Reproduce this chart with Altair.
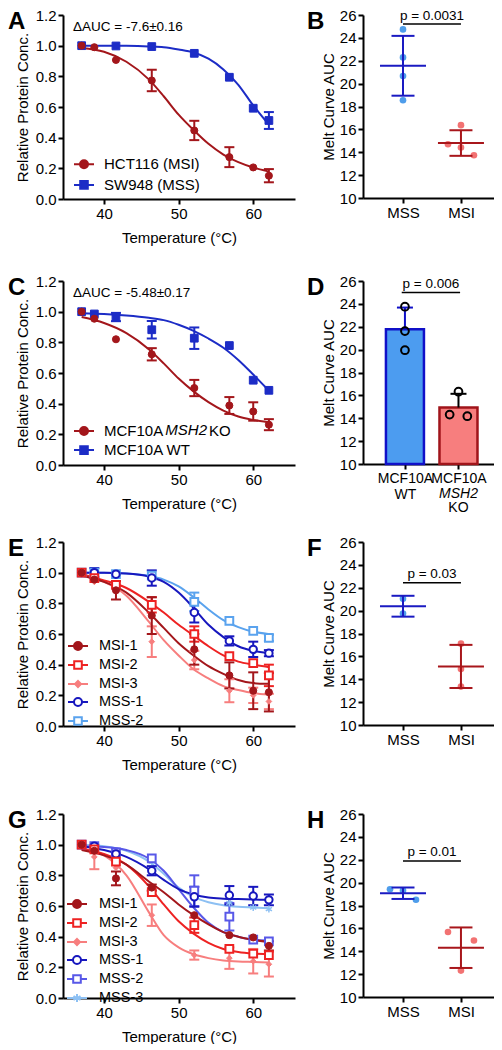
import altair as alt
import pandas as pd

FONT = "Liberation Sans"

# ---------------- shared temperatures ----------------
TEMPS = [37.0, 38.7, 41.6, 46.4, 52.1, 56.8, 60.0, 62.1]
FIT_T = [37, 40, 43, 46, 48, 50, 52, 54, 56, 58, 60, 62]

# ---------------- Panel A ----------------
A_NAMES = ["HCT116 (MSI)", "SW948 (MSS)"]
A_MSI = [1.00, 0.99, 0.907, 0.773, 0.447, 0.273, 0.206, 0.152]
A_MSI_ERR = [0, 0, 0, 0.07, 0.063, 0.065, 0, 0.043]
A_MSS = [1.00, None, 0.998, 0.994, 0.95, 0.794, 0.592, 0.512]
A_MSS_ERR = [0, 0, 0, 0, 0, 0, 0, 0.055]
A_MSI_FIT = [0.985, 0.96, 0.895, 0.78, 0.67, 0.55, 0.45, 0.36, 0.29, 0.24, 0.205, 0.18]
A_MSS_FIT = [1.0, 1.0, 0.999, 0.995, 0.99, 0.975, 0.955, 0.915, 0.845, 0.745, 0.61, 0.49]
A_DELTA = "\u0394AUC = -7.6\u00b10.16"

# ---------------- Panel B ----------------
B_GROUPS = ["MSS", "MSI"]
B_MSS = [24.74, 22.29, 20.66, 18.55]
B_MSI = [16.37, 14.70, 14.41, 13.74]
B_MSS_SLOT = [0, 0, 0, 0]
B_MSI_SLOT = [0, -1, 0, 1]
B_P = "p = 0.0031"

# ---------------- Panel C ----------------
C_NAMES = ["MCF10A MSH2 KO", "MCF10A WT"]
C_KO = [1.0, 0.954, 0.82, 0.722, 0.502, 0.388, 0.349, 0.263]
C_KO_ERR = [0, 0, 0, 0.04, 0.053, 0.055, 0.06, 0.036]
C_WT = [1.0, 0.985, 0.965, 0.882, 0.827, 0.779, 0.553, 0.487]
C_WT_ERR = [0, 0, 0.027, 0.057, 0.07, 0, 0, 0]
C_KO_FIT = [0.965, 0.926, 0.86, 0.755, 0.663, 0.564, 0.48, 0.41, 0.355, 0.316, 0.294, 0.279]
C_WT_FIT = [0.99, 0.985, 0.975, 0.96, 0.945, 0.915, 0.875, 0.825, 0.765, 0.685, 0.59, 0.49]
C_DELTA = "\u0394AUC = -5.48\u00b10.17"

# ---------------- Panel D ----------------
D_GROUPS = ["MCF10A WT", "MCF10A MSH2 KO"]
D_WT = [23.75, 21.62, 19.95]
D_KO = [16.32, 14.32, 14.18]
D_WT_SLOT = [0, 0, 0]
D_KO_SLOT = [0, -1, 1]
D_P = "p = 0.006"

# ---------------- Panel E ----------------
E_NAMES = ["MSI-1", "MSI-2", "MSI-3", "MSS-1", "MSS-2"]
E_MSI1 = [1.0, 0.955, 0.885, 0.72, 0.50, 0.33, 0.23, 0.22]
E_MSI1_ERR = [0, 0, 0.06, 0.12, 0.10, 0.085, 0.12, 0.125]
E_MSI2 = [1.0, 0.965, 0.92, 0.79, 0.60, 0.455, 0.41, 0.33]
E_MSI2_ERR = [0, 0, 0, 0.05, 0.05, 0, 0, 0.07]
E_MSI3 = [1.0, 0.94, 0.90, 0.55, 0.43, 0.23, 0.20, 0.16]
E_MSI3_ERR = [0, 0, 0, 0.10, 0.06, 0.075, 0.05, 0.05]
E_MSS1 = [1.0, 1.0, 0.99, 0.965, 0.74, 0.555, 0.50, 0.475]
E_MSS1_ERR = [0, 0.03, 0, 0.05, 0.065, 0.03, 0.05, 0.02]
E_MSS2 = [1.0, 1.0, 0.99, 0.98, 0.81, 0.685, 0.62, 0.575]
E_MSS2_ERR = [0, 0, 0, 0, 0.06, 0, 0, 0.02]
E_MSI1_FIT = [0.98, 0.94, 0.87, 0.74, 0.64, 0.54, 0.46, 0.39, 0.34, 0.30, 0.28, 0.275]
E_MSI2_FIT = [0.99, 0.95, 0.90, 0.81, 0.74, 0.66, 0.59, 0.52, 0.46, 0.42, 0.40, 0.385]
E_MSI3_FIT = [0.98, 0.94, 0.85, 0.68, 0.56, 0.46, 0.37, 0.31, 0.26, 0.235, 0.215, 0.205]
E_MSS1_FIT = [1.0, 1.0, 0.995, 0.975, 0.94, 0.87, 0.77, 0.66, 0.58, 0.52, 0.49, 0.475]
E_MSS2_FIT = [1.0, 1.0, 0.995, 0.98, 0.955, 0.91, 0.84, 0.76, 0.69, 0.645, 0.615, 0.60]

# ---------------- Panel F ----------------
F_GROUPS = ["MSS", "MSI"]
F_MSS = [21.03, 19.74]
F_MSI = [17.11, 14.89, 13.36]
F_MSS_SLOT = [0, 0]
F_MSI_SLOT = [0, 0, 0]
F_P = "p = 0.03"

# ---------------- Panel G ----------------
G_NAMES = ["MSI-1", "MSI-2", "MSI-3", "MSS-1", "MSS-2", "MSS-3"]
G_MSI1 = [1.0, 0.96, 0.78, 0.72, 0.54, 0.41, 0.395, 0.34]
G_MSI1_ERR = [0, 0, 0.045, 0.02, 0, 0, 0, 0.03]
G_MSI2 = [1.0, 0.97, 0.89, 0.69, 0.475, 0.32, 0.29, 0.28]
G_MSI2_ERR = [0, 0, 0, 0, 0.05, 0, 0, 0]
G_MSI3 = [1.0, 0.92, 0.85, 0.54, 0.28, 0.26, 0.24, 0.22]
G_MSI3_ERR = [0, 0.08, 0, 0.07, 0.03, 0.07, 0.08, 0.08]
G_MSS1 = [1.0, 0.99, 0.94, 0.83, 0.66, 0.67, 0.665, 0.64]
G_MSS1_ERR = [0, 0, 0, 0.03, 0.065, 0.06, 0.06, 0.035]
G_MSS2 = [1.0, 0.99, 0.95, 0.91, 0.70, 0.53, 0.38, 0.37]
G_MSS2_ERR = [0, 0, 0, 0, 0.10, 0.09, 0, 0]
G_MSS3 = [1.0, 0.99, 0.95, 0.89, 0.69, 0.62, 0.59, 0.58]
G_MSS3_ERR = [0, 0, 0, 0, 0, 0, 0, 0]
G_MSI1_FIT = [0.965, 0.93, 0.87, 0.76, 0.69, 0.61, 0.54, 0.48, 0.43, 0.40, 0.38, 0.365]
G_MSI2_FIT = [0.97, 0.94, 0.87, 0.73, 0.61, 0.50, 0.42, 0.36, 0.32, 0.30, 0.29, 0.285]
G_MSI3_FIT = [0.975, 0.93, 0.80, 0.56, 0.41, 0.33, 0.285, 0.26, 0.245, 0.238, 0.235, 0.232]
G_MSS1_FIT = [0.99, 0.965, 0.92, 0.84, 0.77, 0.71, 0.675, 0.655, 0.648, 0.645, 0.642, 0.64]
G_MSS2_FIT = [0.99, 0.985, 0.965, 0.91, 0.83, 0.71, 0.59, 0.49, 0.43, 0.40, 0.38, 0.375]
G_MSS3_FIT = [1.0, 0.99, 0.96, 0.89, 0.81, 0.72, 0.66, 0.625, 0.605, 0.595, 0.59, 0.585]

# ---------------- Panel H ----------------
H_GROUPS = ["MSS", "MSI"]
H_MSS = [19.42, 19.30, 18.50]
H_MSI = [15.68, 12.31, 14.94]
H_MSS_SLOT = [-1, 0, 1]
H_MSI_SLOT = [-1, 0, 1]
H_P = "p = 0.01"

# ---------------- styles ----------------
DRED = "#A3161B"
BLUE = "#1C2CC6"
RED = "#EE2222"
PINK = "#F77E7E"
NAVY = "#1717BE"
SKY = "#5AA3EE"
PERI = "#5858E8"
LSKY = "#8DC0F3"
PT_BLUE = "#4E9DEB"
PT_RED = "#F27272"
LN_BLUE = "#1A1AC2"
LN_RED = "#A8161B"

STAR = "M0,-1V1M-0.87,-0.5L0.87,0.5M-0.87,0.5L0.87,-0.5"
MARKERS = {
    "fcircle": dict(shape="circle", size=50, kind="filled",
                    leg="M-1,0H-0.4M0.4,0H1M0.4,0A0.4,0.4,0,1,1,-0.4,0A0.4,0.4,0,1,1,0.4,0Z"),
    "fsquare": dict(shape="square", size=60, kind="filled",
                    leg="M-1,0H-0.38M0.38,0H1M-0.38,-0.38H0.38V0.38H-0.38Z"),
    "ocircle": dict(shape="circle", size=55, kind="open",
                    leg="M-1,0H-0.4M0.4,0H1M0.4,0A0.4,0.4,0,1,1,-0.4,0A0.4,0.4,0,1,1,0.4,0Z"),
    "osquare": dict(shape="square", size=60, kind="open",
                    leg="M-1,0H-0.38M0.38,0H1M-0.38,-0.38H0.38V0.38H-0.38Z"),
    "diamond": dict(shape="diamond", size=32, kind="filled",
                    leg="M-1,0H1M0,-0.3L0.3,0L0,0.3L-0.3,0Z"),
    "star": dict(shape=STAR, size=50, kind="star",
                 leg="M-1,0H1M0,-0.4V0.4M-0.35,-0.2L0.35,0.2M-0.35,0.2L0.35,-0.2"),
}

W_L, H_L = 232, 184
W_R, H_R = 131, 183
LETTER_Y = -5

RES = dict(shape="independent", fill="independent", stroke="independent", color="independent")


def letter_layer(letter, x):
    return alt.Chart(pd.DataFrame({"lab": [letter]})).mark_text(
        fontSize=24, fontWeight="bold", font=FONT, align="left", baseline="top", color="black"
    ).encode(text="lab:N", x=alt.value(x), y=alt.value(LETTER_Y))


def curve_panel(letter, names, vals, errs, fits, styles, leg, delta=None, label_map=None, overlay=None):
    key = "s" + letter
    rows = []
    for n, vs, es in zip(names, vals, errs):
        for t, v, e in zip(TEMPS, vs, es):
            if v is not None:
                rows.append({key: n, "t": t, "v": v, "e": e})
    pts = pd.DataFrame(rows)
    fit = pd.DataFrame([{key: n, "t": t, "v": v}
                        for n, fs in zip(names, fits) for t, v in zip(FIT_T, fs)])

    xs = alt.Scale(domain=[34.5, 65.6], nice=False, zero=False)
    xa = alt.Axis(values=[40, 50, 60], title="Temperature (\u00b0C)", titlePadding=9, labelFlush=False)
    ys = alt.Scale(domain=[0, 1.2], nice=False, zero=False)
    ya = alt.Axis(values=[0, 0.2, 0.4, 0.6, 0.8, 1.0, 1.2], format=".1f",
                  title="Relative Protein Conc.", titlePadding=5, labelFlush=False)

    def X(f):
        return alt.X(f, type="quantitative", scale=xs, axis=xa)

    def Y(f):
        return alt.Y(f, type="quantitative", scale=ys, axis=ya)

    order = list(range(len(names)))[::-1]
    layers = []
    for i in order:
        c = styles[i][0]
        layers.append(alt.Chart(fit).transform_filter(alt.datum[key] == names[i]).mark_line(
            color=c, strokeWidth=2, interpolate="monotone").encode(x=X("t"), y=Y("v")))
    for i in order:
        c = styles[i][0]
        eb = alt.Chart(pts).transform_filter(alt.datum[key] == names[i]).transform_filter(
            "datum.e > 0").transform_calculate(lo="datum.v - datum.e", hi="datum.v + datum.e")
        layers.append(eb.mark_rule(color=c, strokeWidth=2).encode(x=X("t"), y=Y("lo"), y2="hi:Q"))
        layers.append(eb.mark_tick(orient="horizontal", size=10, thickness=2, color=c, opacity=1)
                      .encode(x=X("t"), y=Y("lo")))
        layers.append(eb.mark_tick(orient="horizontal", size=10, thickness=2, color=c, opacity=1)
                      .encode(x=X("t"), y=Y("hi")))
    for i in order:
        c, mk = styles[i]
        m = MARKERS[mk]
        base = alt.Chart(pts).transform_filter(alt.datum[key] == names[i])
        if m["kind"] == "filled":
            mark = base.mark_point(shape=m["shape"], size=m["size"], filled=True, fill=c, stroke=c,
                                   strokeWidth=1, opacity=1)
        elif m["kind"] == "open":
            mark = base.mark_point(shape=m["shape"], size=m["size"], filled=True, fill="white",
                                   stroke=c, strokeWidth=2, opacity=1)
        else:
            mark = base.mark_point(shape=m["shape"], size=m["size"], filled=False, stroke=c,
                                   strokeWidth=1.5, opacity=1)
        layers.append(mark.encode(x=X("t"), y=Y("v")))

    # legend (library legend with line+marker symbols)
    colors = [s[0] for s in styles]
    fills = [s[0] if MARKERS[s[1]]["kind"] == "filled" else "white" for s in styles]
    paths = [MARKERS[s[1]]["leg"] for s in styles]
    lkw = dict(orient="none", legendX=leg["x"], legendY=leg["y"], title=None, symbolSize=400,
               symbolStrokeWidth=2, symbolOpacity=1, labelFont=FONT, labelFontSize=leg["fs"],
               labelColor="black", labelOffset=leg["off"], rowPadding=leg["rp"], padding=0,
               labelLimit=300)
    if label_map:
        lkw["labelExpr"] = " : ".join(
            [f"datum.label == '{k}' ? '{v}'" for k, v in label_map.items()]) + " : datum.label"
    L = alt.Legend(**lkw)
    layers.append(alt.Chart(pts).transform_filter("false").mark_point(opacity=1, filled=True).encode(
        shape=alt.Shape(f"{key}:N", scale=alt.Scale(domain=names, range=paths), legend=L),
        stroke=alt.Stroke(f"{key}:N", scale=alt.Scale(domain=names, range=colors), legend=L),
        fill=alt.Fill(f"{key}:N", scale=alt.Scale(domain=names, range=fills), legend=L),
    ))
    if overlay:
        layers.append(alt.Chart(pd.DataFrame({"lab": [overlay["text"]]})).mark_text(
            fontSize=leg["fs"], font=FONT, fontStyle="italic", align="left", baseline="middle",
            color="black").encode(text="lab:N", x=alt.value(overlay["x"]), y=alt.value(overlay["y"])))
    if delta:
        layers.append(alt.Chart(pd.DataFrame({"lab": [delta]})).mark_text(
            fontSize=13.5, font=FONT, align="left", baseline="middle", color="black"
        ).encode(text="lab:N", x=alt.value(10), y=alt.value(12)))
    layers.append(letter_layer(letter, -55))
    return alt.layer(*layers).properties(width=W_L, height=H_L)


def right_scales(groups, label_expr=None, lfs=None):
    xs = alt.Scale(domain=[-0.69, 1.57], nice=False, zero=False)
    if label_expr is None:
        label_expr = f"datum.value == 0 ? '{groups[0]}' : '{groups[1]}'"
    akw = dict(values=[0, 1], labelExpr=label_expr, title=None, labelFlush=False, labelOverlap=False)
    if lfs:
        akw["labelFontSize"] = lfs
    xa = alt.Axis(**akw)
    ys = alt.Scale(domain=[10, 26], nice=False, zero=False)
    ya = alt.Axis(values=list(range(10, 27, 2)), title="Melt Curve AUC", titlePadding=3, labelFlush=False)

    def X(f):
        return alt.X(f, type="quantitative", scale=xs, axis=xa)

    def Y(f):
        return alt.Y(f, type="quantitative", scale=ys, axis=ya)
    return X, Y


def p_layers(X, Y, text, y_line, y_text, x0=0, x1=1):
    br = alt.Chart(pd.DataFrame({"x0": [x0], "x1": [x1], "y": [y_line]})).mark_rule(
        color="black", strokeWidth=1.5).encode(x=X("x0"), x2="x1:Q", y=Y("y"))
    tx = alt.Chart(pd.DataFrame({"x": [(x0 + x1) / 2], "y": [y_text], "lab": [text]})).mark_text(
        fontSize=13.5, font=FONT, baseline="alphabetic", color="black").encode(
        x=X("x"), y=Y("y"), text="lab:N")
    return [br, tx]


def dot_panel(letter, groups, vals, slots, ptext, y_line, y_text):
    df = pd.DataFrame([{"g": g, "v": v, "slot": s}
                       for g, vs, ss in zip(groups, vals, slots) for v, s in zip(vs, ss)])
    X, Y = right_scales(groups)
    pt_cols = [PT_BLUE, PT_RED]
    ln_cols = [LN_BLUE, LN_RED]
    layers = []
    for i, g in enumerate(groups):
        layers.append(alt.Chart(df).transform_filter(alt.datum.g == g).transform_calculate(
            xp=f"{i} + datum.slot * 0.224").mark_circle(size=44, color=pt_cols[i], opacity=1)
            .encode(x=X("xp"), y=Y("v")))
    for i, g in enumerate(groups):
        st = alt.Chart(df).transform_filter(alt.datum.g == g).transform_aggregate(
            m="mean(v)", sd="stdev(v)").transform_calculate(
            xp=f"{i}", lo="datum.m - datum.sd", hi="datum.m + datum.sd")
        c = ln_cols[i]
        layers.append(st.mark_rule(color=c, strokeWidth=2).encode(x=X("xp"), y=Y("lo"), y2="hi:Q"))
        layers.append(st.mark_tick(orient="horizontal", size=46, thickness=2, color=c, opacity=1)
                      .encode(x=X("xp"), y=Y("m")))
        layers.append(st.mark_tick(orient="horizontal", size=23, thickness=2, color=c, opacity=1)
                      .encode(x=X("xp"), y=Y("lo")))
        layers.append(st.mark_tick(orient="horizontal", size=23, thickness=2, color=c, opacity=1)
                      .encode(x=X("xp"), y=Y("hi")))
    layers += p_layers(X, Y, ptext, y_line, y_text)
    layers.append(letter_layer(letter, -56))
    return alt.layer(*layers).properties(width=W_R, height=H_R)


def bar_panel(letter, groups, vals, slots, ptext, y_line, y_text):
    df = pd.DataFrame([{"g": g, "v": v, "slot": s}
                       for g, vs, ss in zip(groups, vals, slots) for v, s in zip(vs, ss)])
    X, Y = right_scales(groups,
                        label_expr="datum.value == 0 ? ['MCF10A', 'WT'] : ['MCF10A']",
                        lfs=14)
    fills = ["#4C9CF0", "#F77E7E"]
    strokes = ["#1010C8", "#A0141A"]
    ebc = ["#1010C8", "black"]
    layers = []
    for i, g in enumerate(groups):
        st = alt.Chart(df).transform_filter(alt.datum.g == g).transform_aggregate(
            m="mean(v)", sd="stdev(v)").transform_calculate(
            xp=f"{i}", b="10", hi="datum.m + datum.sd")
        layers.append(st.mark_bar(size=38, fill=fills[i], stroke=strokes[i], strokeWidth=2.5)
                      .encode(x=X("xp"), y=Y("m"), y2="b:Q"))
        layers.append(st.mark_rule(color=ebc[i], strokeWidth=2).encode(x=X("xp"), y=Y("m"), y2="hi:Q"))
        layers.append(st.mark_tick(orient="horizontal", size=16, thickness=2, color=ebc[i], opacity=1)
                      .encode(x=X("xp"), y=Y("hi")))
    for i, g in enumerate(groups):
        layers.append(alt.Chart(df).transform_filter(alt.datum.g == g).transform_calculate(
            xp=f"{i} + datum.slot * 0.165").mark_point(shape="circle", size=60, filled=False,
                                                       stroke="black", strokeWidth=2, opacity=1)
            .encode(x=X("xp"), y=Y("v")))
    layers += p_layers(X, Y, ptext, y_line, y_text, -0.06, 1.03)
    extra = pd.DataFrame({"xp": [1, 1], "lab": ["MSH2", "KO"], "style": ["italic", "normal"]})
    layers.append(alt.Chart(extra).transform_filter(alt.datum.style == "italic").mark_text(
        fontSize=14, font=FONT, fontStyle="italic", baseline="middle", color="black")
        .encode(x=X("xp"), y=alt.value(H_R + 29.5), text="lab:N"))
    layers.append(alt.Chart(extra).transform_filter(alt.datum.style == "normal").mark_text(
        fontSize=14, font=FONT, baseline="middle", color="black")
        .encode(x=X("xp"), y=alt.value(H_R + 43.5), text="lab:N"))
    layers.append(letter_layer(letter, -56))
    return alt.layer(*layers).properties(width=W_R, height=H_R)


panelA = curve_panel("A", A_NAMES, [A_MSI, A_MSS], [A_MSI_ERR, A_MSS_ERR], [A_MSI_FIT, A_MSS_FIT],
                     [(DRED, "fcircle"), (BLUE, "fsquare")],
                     dict(x=10, y=138.3, fs=15, off=9, rp=1.6), delta=A_DELTA)
panelB = dot_panel("B", B_GROUPS, [B_MSS, B_MSI], [B_MSS_SLOT, B_MSI_SLOT], B_P, 25.21, 25.55)

panelC = curve_panel("C", C_NAMES, [C_KO, C_WT], [C_KO_ERR, C_WT_ERR], [C_KO_FIT, C_WT_FIT],
                     [(DRED, "fcircle"), (BLUE, "fsquare")],
                     dict(x=10, y=139, fs=15, off=9, rp=0.1), delta=C_DELTA,
                     label_map={"MCF10A MSH2 KO": "MCF10A" + "\u00a0" * 11 + "KO"},
                     overlay=dict(text="MSH2", x=102.3, y=149))
panelD = bar_panel("D", D_GROUPS, [D_WT, D_KO], [D_WT_SLOT, D_KO_SLOT], D_P, 25.0, 25.35)

panelE = curve_panel("E", E_NAMES, [E_MSI1, E_MSI2, E_MSI3, E_MSS1, E_MSS2],
                     [E_MSI1_ERR, E_MSI2_ERR, E_MSI3_ERR, E_MSS1_ERR, E_MSS2_ERR],
                     [E_MSI1_FIT, E_MSI2_FIT, E_MSI3_FIT, E_MSS1_FIT, E_MSS2_FIT],
                     [(DRED, "fcircle"), (RED, "osquare"), (PINK, "diamond"), (NAVY, "ocircle"),
                      (SKY, "osquare")],
                     dict(x=4, y=93, fs=14.5, off=10, rp=-0.5))
panelF = dot_panel("F", F_GROUPS, [F_MSS, F_MSI], [F_MSS_SLOT, F_MSI_SLOT], F_P, 22.43, 22.85)

panelG = curve_panel("G", G_NAMES, [G_MSI1, G_MSI2, G_MSI3, G_MSS1, G_MSS2, G_MSS3],
                     [G_MSI1_ERR, G_MSI2_ERR, G_MSI3_ERR, G_MSS1_ERR, G_MSS2_ERR, G_MSS3_ERR],
                     [G_MSI1_FIT, G_MSI2_FIT, G_MSI3_FIT, G_MSS1_FIT, G_MSS2_FIT, G_MSS3_FIT],
                     [(DRED, "fcircle"), (RED, "osquare"), (PINK, "diamond"), (NAVY, "ocircle"),
                      (PERI, "osquare"), (LSKY, "star")],
                     dict(x=3, y=79, fs=14.5, off=11, rp=-2.2))
panelH = dot_panel("H", H_GROUPS, [H_MSS, H_MSI], [H_MSS_SLOT, H_MSI_SLOT], H_P, 21.9, 22.32)


def row(a, b):
    return alt.hconcat(a, b, spacing=12).resolve_scale(**RES).resolve_legend(
        shape="independent", fill="independent", stroke="independent", color="independent")


top = alt.vconcat(row(panelA, panelB), row(panelC, panelD), spacing=29).resolve_scale(**RES)
bottom = alt.vconcat(row(panelE, panelF), row(panelG, panelH), spacing=35).resolve_scale(**RES)

chart = alt.vconcat(top, bottom, spacing=20, padding=0).resolve_scale(**RES).resolve_legend(
    shape="independent", fill="independent", stroke="independent", color="independent"
).configure_view(stroke=None).configure_axis(
    domainColor="black", domainWidth=2, tickColor="black", tickWidth=2, tickSize=5, grid=False,
    labelFont=FONT, labelFontSize=15, labelColor="black", labelPadding=2,
    titleFont=FONT, titleFontSize=15, titleColor="black", titleFontWeight="normal")

chart.save("out.html", embed_options={"renderer": "svg", "actions": False})
